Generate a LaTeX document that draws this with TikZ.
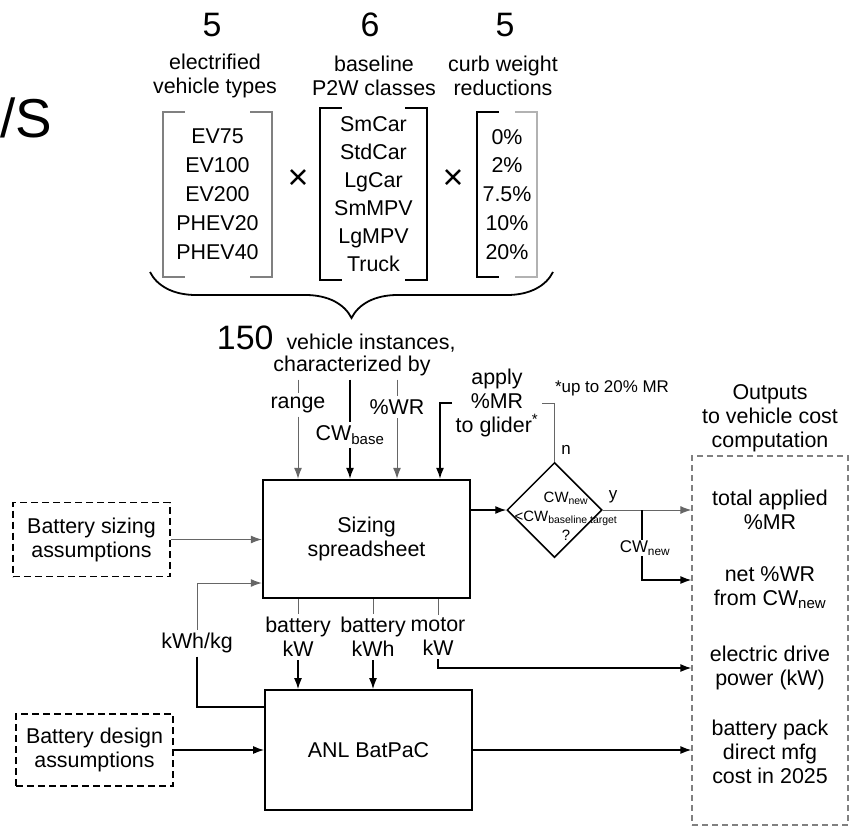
\documentclass[tikz,border=0pt]{standalone}
\usepackage{fontspec}
\setmainfont{Liberation Sans}
\usetikzlibrary{arrows.meta,shapes.geometric,decorations.pathreplacing}

\begin{document}
\begin{tikzpicture}[x=1bp, y=-1bp,
  font=\fontsize{21.5}{24}\selectfont,
  >={Latex[length=11bp,width=8bp]},
  big/.style={font=\fontsize{34}{36}\selectfont},
  small/.style={font=\fontsize{17}{20}\selectfont},
  list/.style={align=center, inner sep=0},
  block/.style={draw, line width=2.4bp, minimum width=207bp, minimum height=118bp, align=center},
  assume/.style={draw, dash pattern=on 7bp off 4bp, line width=1.3bp, minimum width=157bp, minimum height=74bp, align=center},
  conn/.style={->, line width=1.3bp},
  feed/.style={line width=1bp, gray!80!black}]

\useasboundingbox (0,0) rectangle (852,827);

% cut-off text at the left
\node[font=\fontsize{55}{60}\selectfont, anchor=base west, inner sep=0] (cut) at (0,137) {/S};

% the three lists
\node[big] (nev) at (212,25) {5};
\node[align=center] (hev) at (215,76) {electrified\\vehicle types};
\node[big] (np2w) at (370,25) {6};
\node[align=center] (hp2w) at (374,76) {baseline\\P2W classes};
\node[big] (ncw) at (505,25) {5};
\node[align=center] (hcw) at (503,76) {curb weight\\reductions};

\node[list, font=\fontsize{21.5}{29}\selectfont, minimum width=109bp, minimum height=165bp] (evs) at (217.5,194.5) {EV75\\EV100\\EV200\\PHEV20\\PHEV40};
\node[list, font=\fontsize{21.5}{28}\selectfont, minimum width=107bp, minimum height=172bp] (p2w) at (373.5,194) {SmCar\\StdCar\\LgCar\\SmMPV\\LgMPV\\Truck};
\node[list, font=\fontsize{21.5}{29}\selectfont, minimum width=60bp, minimum height=165bp] (cwr) at (507,194.5) {0\%\\2\%\\7.5\%\\10\%\\20\%};

\node[font=\fontsize{36}{36}\selectfont] (times1) at (298,180) {×};
\node[font=\fontsize{36}{36}\selectfont] (times2) at (453,180) {×};

\def\tick{22bp}
\foreach \n/\cl/\cr in {evs/gray/gray, p2w/black/black, cwr/black/gray!60}{
	\draw[\cl, line width=1.6bp] ([xshift=\tick]\n.north west) -| (\n.south west) -- ++(\tick,0);
	\draw[\cr, line width=1.6bp] ([xshift=-\tick]\n.north east) -| (\n.south east) -- ++(-\tick,0);
}

\draw[decorate, decoration={brace, mirror, amplitude=46bp}, line width=1.8bp] (150,272) -- (553,272);

\node[big, anchor=base east] (n150) at (277,349) {150};
\node[anchor=base west] (vinst) at (283,349) {vehicle instances,};
\node (chars) at (352,366) {characterized by};

% main blocks
\node[block] (sizing) at (366.5,539) {Sizing\\spreadsheet};
\node[block, line width=1.8bp, minimum height=120bp] (anl) at (368.5,750) {ANL BatPaC};
\node[diamond, draw, line width=1.5bp, minimum width=95bp, minimum height=95bp, inner sep=0] (dia) at (554.5,510) {};
\node[align=center, font=\fontsize{15}{19}\selectfont] (test) at (566,516) {CW\textsubscript{new}\\<CW\textsubscript{baseline target}\\?};

\node[assume] (bsize) at (91.5,539.5) {Battery sizing\\assumptions};
\node[assume, minimum height=72bp] (bdesign) at (94.5,750) {Battery design\\assumptions};

\node[draw=gray, dash pattern=on 6bp off 4bp, line width=1.3bp, minimum width=156bp, minimum height=369bp] (outbox) at (770,640.5) {};
\node[align=center] (outhead) at (770,418) {Outputs\\to vehicle cost\\computation};
\node[align=center] (o1) at (770,510) {total applied\\\%MR};
\node[align=center] (o2) at (770,588) {net \%WR\\from CW\textsubscript{new}};
\node[align=center] (o3) at (770,668) {electric drive\\power (kW)};
\node[align=center] (o4) at (770,752) {battery pack\\direct mfg\\cost in 2025};

% inputs from the top
\node (range) at (298,405) {range};
\node (cwb) at (350,435) {CW\textsubscript{base}};
\node (pwr) at (397,407) {\%WR};
\node[align=center] (apply) at (497,403) {apply\\\%MR\\to glider\textsuperscript{*}};
\node[small] (upto) at (612,388) {*up to 20\% MR};
\node[small] (no) at (566,450) {n};
\node[small] (yes) at (613,497) {y};

\draw[feed] (range.north |- chars.south) -- (range.north);
\draw[feed, ->] (range.south) -- (range.south |- sizing.north);
\draw[line width=1.3bp] (cwb.north |- chars.south) -- (cwb.north);
\draw[conn] (cwb.south) -- (cwb.south |- sizing.north);
\draw[feed] (pwr.north |- chars.south) -- (pwr.north);
\draw[feed, ->] (pwr.south) -- (pwr.south |- sizing.north);

% decision
\draw[conn] (sizing.east |- dia.west) -- (dia.west);
\draw[feed] (dia.north) |- (apply.east);
\draw[conn] (apply.west) -| ([xshift=73.5bp]sizing.north);
\draw[feed, ->] (dia.east) -- (dia.east -| outbox.west);
\coordinate (br) at (642,510);
\node[small, fill=white, inner sep=1bp] (cwn) at (645,548) {CW\textsubscript{new}};
\draw[line width=1.3bp] (br) -- (br |- cwn.north);
\draw[conn] (br |- cwn.south) |- (outbox.west |- 0,580);

% battery side
\draw[feed, ->] (bsize) -- (bsize -| sizing.west);
\draw[conn] (bdesign) -- (bdesign -| anl.west);
\node (kwh) at (197,643) {kWh/kg};
\draw[line width=1.3bp] (kwh.south) |- ([yshift=43bp]anl.west);
\draw[feed, ->] (kwh.north) |- ([yshift=-44bp]sizing.west);

\node[align=center] (bkw) at (298,637) {battery\\kW};
\node[align=center] (bkwh) at (373,637) {battery\\kWh};
\node[align=center] (mkw) at (438,637) {motor\\kW};
\foreach \l in {bkw,bkwh,mkw}
	\draw[feed] (\l.north |- sizing.south) -- (\l.north);
\draw[conn] (bkw.south) -- (bkw.south |- anl.north);
\draw[conn] (bkwh.south) -- (bkwh.south |- anl.north);
\draw[conn] (mkw.south) |- (outbox.west |- o3);
\draw[conn] (anl.east) -- (anl.east -| outbox.west);

\end{tikzpicture}
\end{document}
